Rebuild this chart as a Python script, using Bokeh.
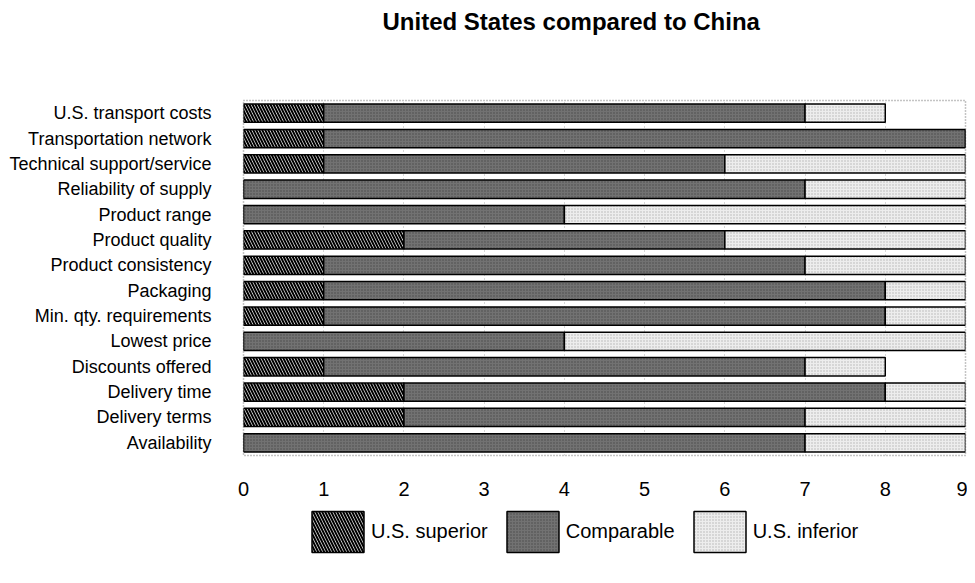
import numpy as np
from bokeh.plotting import figure
from bokeh.layouts import column
from bokeh.models import (FactorRange, Legend, LegendItem, FixedTicker,
                          ColumnDataSource, Range1d, Title)
from bokeh.embed import file_html
from bokeh.resources import INLINE

categories = [
    "U.S. transport costs",
    "Transportation network",
    "Technical support/service",
    "Reliability of supply",
    "Product range",
    "Product quality",
    "Product consistency",
    "Packaging",
    "Min. qty. requirements",
    "Lowest price",
    "Discounts offered",
    "Delivery time",
    "Delivery terms",
    "Availability",
]
us_superior = [1, 1, 1, 0, 0, 2, 1, 1, 1, 0, 1, 2, 2, 0]
comparable = [6, 8, 5, 7, 4, 4, 6, 7, 7, 4, 6, 6, 5, 7]
us_inferior = [1, 0, 3, 2, 5, 3, 2, 1, 1, 5, 1, 1, 2, 2]
x_ticks = [0, 1, 2, 3, 4, 5, 6, 7, 8, 9]
series_names = ["U.S. superior", "Comparable", "U.S. inferior"]

sup = np.array(us_superior, dtype=float)
cmp_ = np.array(comparable, dtype=float)
inf = np.array(us_inferior, dtype=float)

src = ColumnDataSource(dict(
    cat=categories,
    l0=np.zeros_like(sup), r0=sup,
    l1=sup, r1=sup + cmp_,
    l2=sup + cmp_, r2=sup + cmp_ + inf,
))

FONT = "Liberation Sans"

styles = [
    dict(fill_color="#ececec", hatch_pattern="left_diagonal_line", hatch_color="black",
         hatch_weight=2, hatch_scale=6),
    dict(fill_color="#727272", hatch_pattern="dot", hatch_color="#4a4a4a",
         hatch_scale=3, hatch_weight=1),
    dict(fill_color="#ededed", hatch_pattern="dot", hatch_color="#b4b4b4",
         hatch_scale=3, hatch_weight=1),
]
spans = [("l0", "r0"), ("l1", "r1"), ("l2", "r2")]

p = figure(
    width=967, height=500,
    y_range=FactorRange(factors=categories[::-1]),
    x_range=(0, 9),
    output_backend="svg", toolbar_location=None,
    min_border_left=243, min_border_right=2, min_border_top=0, min_border_bottom=45,
)

for (lc, rc), st in zip(spans, styles):
    p.hbar(y="cat", left=lc, right=rc, height=0.72, source=src,
           line_color="black", line_width=1.5, **st)

# spacer between title and plot area
p.add_layout(Title(text=" ", text_font_size="10px", standoff=47), "above")

# title
p.title.text = "United States compared to China"
p.title.text_font = FONT
p.title.text_font_size = "24px"
p.title.text_font_style = "bold"
p.title.text_color = "black"
p.title.align = "left"
p.title.offset = 139
p.title.standoff = 11

# axes
p.xaxis.ticker = FixedTicker(ticks=x_ticks)
p.xaxis.axis_line_color = None
p.xaxis.major_tick_line_color = None
p.xaxis.minor_tick_line_color = None
p.xaxis.major_label_text_font = FONT
p.xaxis.major_label_text_font_size = "20px"
p.xaxis.major_label_text_color = "black"
p.xaxis.major_label_standoff = 20

p.yaxis.axis_line_color = None
p.yaxis.major_tick_line_color = None
p.yaxis.major_label_text_font = FONT
p.yaxis.major_label_text_font_size = "18px"
p.yaxis.major_label_text_color = "black"
p.yaxis.major_label_standoff = 26

p.ygrid.grid_line_color = None
p.xgrid.grid_line_color = "#b0b0b0"
p.xgrid.grid_line_dash = "1 3"
p.xgrid.grid_line_width = 1

p.outline_line_color = "#8a8a8a"
p.outline_line_dash = "1 2"
p.outline_line_width = 1.5

# legend panel: a small figure whose ranges exclude the bars, so only the legend shows
lf = figure(
    width=967, height=75, x_range=Range1d(100, 101),
    y_range=FactorRange(factors=series_names),
    output_backend="svg", toolbar_location=None,
    min_border_left=0, min_border_right=0, min_border_top=0, min_border_bottom=0,
)
lf.axis.visible = False
lf.grid.visible = False
lf.outline_line_color = None
leg_items = []
for name, (lc, rc), st in zip(series_names, spans, styles):
    r = lf.hbar(y="cat", left=lc, right=rc, height=0.72, source=src,
                line_color="black", line_width=1.5, **st)
    leg_items.append(LegendItem(label=name, renderers=[r]))

legend = Legend(
    items=leg_items, orientation="horizontal", location=(62, 18),
    glyph_width=65, glyph_height=51,
    label_text_font=FONT, label_text_font_size="20px", label_text_color="black",
    label_standoff=1, spacing=12, padding=4, margin=0,
    border_line_color=None, background_fill_alpha=0,
)
lf.add_layout(legend)

layout = column(p, lf, spacing=0)
open("out.html", "w").write(file_html(layout, INLINE))
